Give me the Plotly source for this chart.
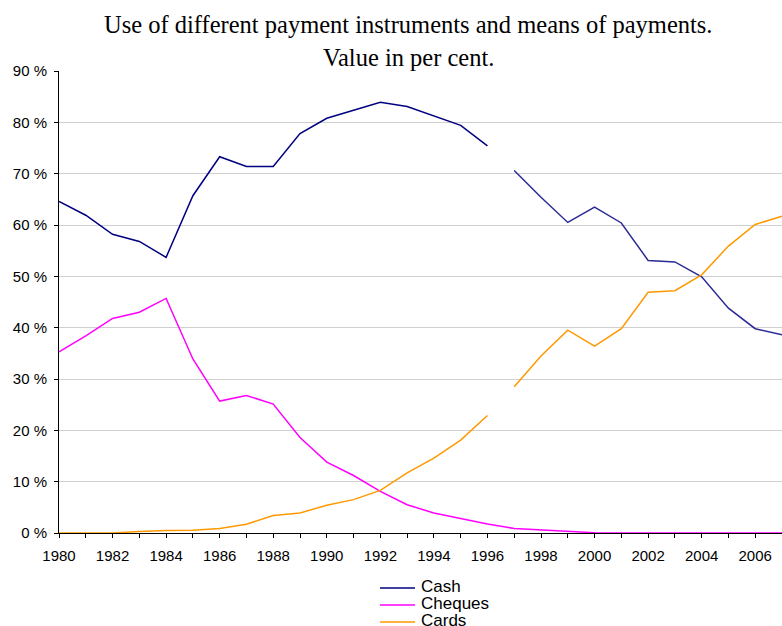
import plotly.graph_objects as go

# Share of payments by value, per cent
years_old = list(range(1980, 1997))   # 1980-1996
years_new = list(range(1997, 2008))   # 1997-2007
years_all = years_old + years_new

cash_old = [64.6, 61.9, 58.2, 56.8, 53.7, 65.7, 73.3, 71.4, 71.4, 77.8,
            80.8, 82.4, 83.9, 83.1, 81.3, 79.4, 75.4]
cash_new = [70.6, 65.4, 60.5, 63.5, 60.4, 53.1, 52.8, 49.9, 43.8, 39.8, 38.6]

cards_old = [0.0, 0.0, 0.0, 0.3, 0.5, 0.55, 0.9, 1.7, 3.4, 3.9,
             5.4, 6.5, 8.3, 11.7, 14.6, 18.1, 22.9]
cards_new = [28.5, 34.5, 39.5, 36.4, 39.8, 46.9, 47.2, 50.3, 55.9, 60.1, 61.7]

cheques = [35.3, 38.4, 41.8, 43.0, 45.7, 33.9, 25.7, 26.8, 25.1, 18.6,
           13.8, 11.2, 8.1, 5.5, 3.9, 2.8, 1.75, 0.9, 0.6, 0.35, 0.05,
           0.0, 0.0, 0.0, 0.0, 0.0, 0.0, 0.0]

series_names = ["Cash", "Cheques", "Cards"]
y_ticks = list(range(0, 100, 10))
y_labels = [f"{v} %" for v in y_ticks]

NAVY = "#000080"
MAGENTA = "#FF00FF"
ORANGE = "#FF9900"
colors = [NAVY, MAGENTA, ORANGE]

W, H = 782, 626
L, R, T, B = 59, 0, 71, 93
plot_w, plot_h = W - L - R, H - T - B


def paper_x(px):
    return (px - L) / plot_w


def paper_y(py):
    return (H - B - py) / plot_h


fig = go.Figure()

# Cash (series break between 1996 and 1997)
fig.add_trace(go.Scatter(x=years_old, y=cash_old, mode="lines", name="Cash",
                         line=dict(color=NAVY, width=1.5)))
fig.add_trace(go.Scatter(x=years_new, y=cash_new, mode="lines", name="Cash",
                         line=dict(color="#2B2B94", width=1.5)))

fig.add_trace(go.Scatter(x=years_all, y=cheques, mode="lines", name="Cheques",
                         line=dict(color=MAGENTA, width=1.5)))

# Cards (same break)
fig.add_trace(go.Scatter(x=years_old, y=cards_old, mode="lines", name="Cards",
                         line=dict(color=ORANGE, width=1.5)))
fig.add_trace(go.Scatter(x=years_new, y=cards_new, mode="lines", name="Cards",
                         line=dict(color=ORANGE, width=1.5)))

tick_font = dict(family="Liberation Sans, Arial", size=15, color="black")

fig.update_xaxes(
    range=[1980, 2007], tick0=1980, dtick=2,
    ticks="outside", ticklen=4, tickcolor="black",
    minor=dict(dtick=1, ticks="outside", ticklen=4, tickcolor="black"),
    showline=True, linecolor="black", linewidth=1,
    showgrid=False, zeroline=False, automargin=False,
    ticklabelstandoff=5,
    tickfont=tick_font,
)
fig.update_yaxes(
    range=[0, 90], tickvals=y_ticks, ticktext=y_labels,
    ticks="outside", ticklen=4, tickcolor="black",
    showline=True, linecolor="black", linewidth=1,
    showgrid=True, gridcolor="#D0D0D0", gridwidth=1, zeroline=False,
    automargin=False, ticklabelstandoff=4,
    tickfont=tick_font,
)

title_font = dict(family="Liberation Serif, Times New Roman", size=24.5, color="black")
annotations = [
    dict(text="Use of different payment instruments and means of payments.",
         x=paper_x(408), xref="paper", xanchor="center", y=paper_y(25), yref="paper",
         yanchor="middle", showarrow=False, font=title_font),
    dict(text="Value in per cent.",
         x=paper_x(408), xref="paper", xanchor="center", y=paper_y(58), yref="paper",
         yanchor="middle", showarrow=False, font=title_font),
]

# legend drawn by hand so the rows sit as tightly as in the original
shapes = []
legend_rows = [588, 605, 622]
for name, col, py in zip(series_names, colors, legend_rows):
    shapes.append(dict(type="line", xref="paper", yref="paper",
                       x0=paper_x(380), x1=paper_x(415),
                       y0=paper_y(py), y1=paper_y(py),
                       line=dict(color=col, width=1.5)))
    annotations.append(dict(text=name, x=paper_x(419), xref="paper", xanchor="left",
                            y=paper_y(py - 2), yref="paper", yanchor="middle",
                            showarrow=False,
                            font=dict(family="Liberation Sans, Arial", size=17,
                                      color="black")))

fig.update_layout(
    width=W, height=H,
    margin=dict(l=L, r=R, t=T, b=B),
    paper_bgcolor="white", plot_bgcolor="white",
    showlegend=False,
    annotations=annotations,
    shapes=shapes,
)

# the page body has an 8px default margin; remove it so the chart sits at 0,0
fig.write_html("out.html", config={"displayModeBar": False},
               post_script="document.body.style.margin='0';document.body.style.overflow='hidden';")
